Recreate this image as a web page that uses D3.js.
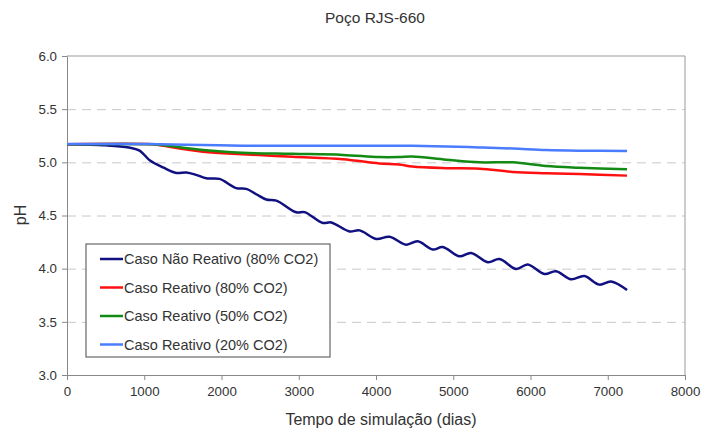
<html>
<head>
  <script src="https://d3js.org/d3.v7.min.js"></script>
  <style>
    body { margin: 0; background: #fff; }
    text { font-family: "Liberation Sans", Arial, sans-serif; fill: #333; }
    .gridlines .domain { display: none; }
    .gridlines line { stroke: #c8c8c8; stroke-dasharray: 9, 6; }
  </style>
</head>
<body>
  <svg width="708" height="428" id="chart"></svg>
  <script>
    const xTicks = [0, 1000, 2000, 3000, 4000, 5000, 6000, 7000, 8000];
    const yTicks = [3.0, 3.5, 4.0, 4.5, 5.0, 5.5, 6.0];

    const naoReativoDays = [0, 500, 800, 940, 1070, 1250, 1415, 1545, 1680, 1803, 1975, 2190, 2320, 2450, 2580,
      2710, 2968, 3075, 3312, 3420, 3657, 3787, 4002, 4174, 4390, 4540, 4735, 4864, 5080, 5231,
      5447, 5598, 5814, 5964, 6180, 6331, 6525, 6697, 6891, 7042, 7250];
    const naoReativo = [5.17, 5.16, 5.14, 5.11, 5.02, 4.95, 4.90, 4.905, 4.88, 4.85, 4.844, 4.757, 4.75, 4.70, 4.65,
      4.64, 4.53, 4.532, 4.43, 4.435, 4.35, 4.36, 4.28, 4.30, 4.226, 4.257, 4.18, 4.204, 4.116, 4.148,
      4.06, 4.09, 3.997, 4.04, 3.95, 3.976, 3.90, 3.93, 3.85, 3.88, 3.80];

    const reativoDays = [0, 1100, 1200, 1760, 2270, 2920, 3570, 4040, 4300, 4470, 4910, 5340, 5770, 6200, 6630, 7250];
    const reativo80 = [5.17, 5.17, 5.16, 5.10, 5.076, 5.053, 5.03, 4.99, 4.98, 4.96, 4.945, 4.94, 4.91, 4.898, 4.89, 4.875];
    const reativo50 = [5.17, 5.17, 5.165, 5.115, 5.09, 5.08, 5.07, 5.05, 5.05, 5.055, 5.025, 5.0, 5.0, 4.966, 4.95, 4.935];
    const reativo20 = [5.172, 5.172, 5.17, 5.162, 5.157, 5.156, 5.155, 5.157, 5.155, 5.155, 5.15, 5.14, 5.13, 5.116, 5.11, 5.107];

    const seriesNames = ["Caso Não Reativo (80% CO2)", "Caso Reativo (80% CO2)",
      "Caso Reativo (50% CO2)", "Caso Reativo (20% CO2)"];
    const seriesColors = ["#101080", "#ff1010", "#138a13", "#4a7cff"];

    const series = [
      { name: seriesNames[0], days: naoReativoDays, ph: naoReativo },
      { name: seriesNames[1], days: reativoDays, ph: reativo80 },
      { name: seriesNames[2], days: reativoDays, ph: reativo50 },
      { name: seriesNames[3], days: reativoDays, ph: reativo20 }
    ];

    const svg = d3.select("#chart");
    const margins = { top: 56, right: 23, bottom: 53, left: 67 };
    const width = 708 - margins.left - margins.right;
    const height = 428 - margins.top - margins.bottom;

    const xScale = d3.scaleLinear().domain([0, 8000]).range([0, width]);
    const yScale = d3.scaleLinear().domain([3.0, 6.0]).range([height, 0]);

    const g = svg.append("g").attr("transform", `translate(${margins.left},${margins.top})`);

    // dashed gridlines
    g.append("g").attr("class", "gridlines")
      .call(d3.axisLeft(yScale).tickValues(yTicks.filter(v => v > 3 && v < 6)).tickSize(-width).tickFormat(""));

    // frame top/right
    g.append("line").attr("x1", 0).attr("x2", width).attr("y1", 0).attr("y2", 0).attr("stroke", "#999");
    g.append("line").attr("x1", width).attr("x2", width).attr("y1", 0).attr("y2", height).attr("stroke", "#999");

    const yAxis = g.append("g").call(d3.axisLeft(yScale).tickValues(yTicks).tickFormat(d3.format(".1f")).tickSize(5).tickSizeOuter(0));
    const xAxis = g.append("g").attr("transform", `translate(0,${height})`)
      .call(d3.axisBottom(xScale).tickValues(xTicks).tickFormat(d3.format("d")).tickSize(5).tickSizeOuter(0));
    [yAxis, xAxis].forEach(a => {
      a.selectAll(".domain").attr("stroke", "#888");
      a.selectAll(".tick line").attr("stroke", "#888");
      a.selectAll("text").attr("font-size", 13.3).attr("fill", "#333")
        .attr("font-family", "'Liberation Sans', Arial, sans-serif");
    });
    yAxis.selectAll("text").attr("x", -10);
    xAxis.selectAll("text").attr("y", 12);

    const line = d3.line()
      .x(d => xScale(d[0]))
      .y(d => yScale(d[1]))
      .curve(d3.curveCatmullRom.alpha(0.5));

    g.selectAll("path.series").data(series).join("path")
      .attr("class", "series")
      .attr("fill", "none")
      .attr("stroke", (d, i) => seriesColors[i])
      .attr("stroke-width", 2.5)
      .attr("d", d => line(d.days.map((x, i) => [x, d.ph[i]])));

    // legend
    const legend = svg.append("g").attr("transform", "translate(86,244)");
    legend.append("rect").attr("width", 244).attr("height", 113)
      .attr("fill", "#fff").attr("stroke", "#666").attr("stroke-width", 1.2);
    series.forEach((s, i) => {
      const yy = 15 + i * 28.5;
      legend.append("line").attr("x1", 14).attr("x2", 37).attr("y1", yy).attr("y2", yy)
        .attr("stroke", seriesColors[i]).attr("stroke-width", 2.5);
      legend.append("text").attr("x", 38).attr("y", yy + 5).attr("font-size", 14.5).text(s.name);
    });

    svg.append("text").attr("x", 375).attr("y", 23).attr("text-anchor", "middle")
      .attr("font-size", 15.5).text("Poço RJS-660");
    svg.append("text").attr("x", 381).attr("y", 425).attr("text-anchor", "middle")
      .attr("font-size", 16).text("Tempo de simulação (dias)");
    svg.append("text").attr("transform", "translate(26,215) rotate(-90)").attr("text-anchor", "middle")
      .attr("font-size", 16).text("pH");
  </script>
</body>
</html>
